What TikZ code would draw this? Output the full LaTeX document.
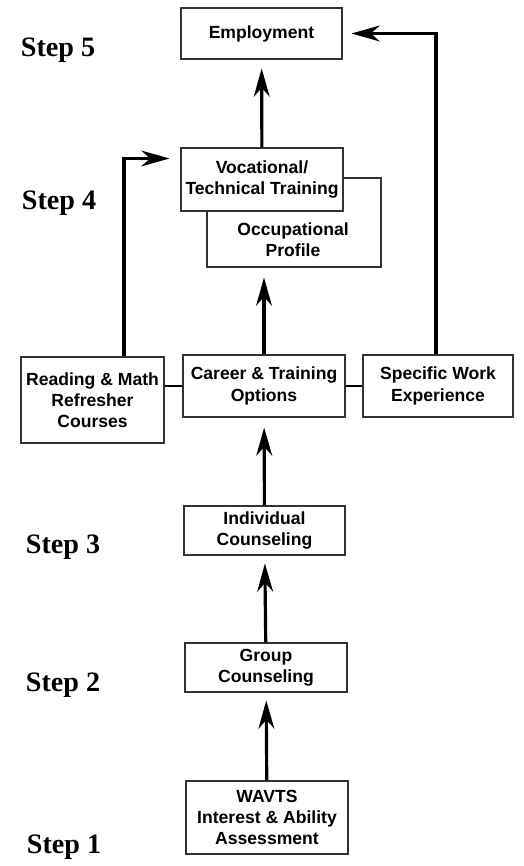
\documentclass[tikz,border=0pt]{standalone}
\usepackage{fontspec}
\setmainfont{Liberation Serif}
\setsansfont{Liberation Sans}
\usetikzlibrary{arrows.meta}

\begin{document}
\begin{tikzpicture}[
  font=\sffamily\bfseries\fontsize{10}{12}\selectfont,
  box/.style={
    rectangle, draw=black!80, fill=white, line width=0.6pt,
    align=center, inner sep=2pt
  },
  flow/.style={
    line width=1.8pt,
    -{Stealth[length=16pt, width=9pt, inset=5pt]}
  },
  link/.style={line width=1.4pt},
  steplbl/.style={font=\rmfamily\bfseries\fontsize{16}{18}\selectfont},
]
\useasboundingbox (0,0) rectangle (10.48,17.32);

% Step labels down the left side
\node[steplbl] (s5) at (1.16,16.32) {Step 5};
\node[steplbl] (s4) at (1.18,13.26) {Step 4};
\node[steplbl] (s3) at (1.26,6.38) {Step 3};
\node[steplbl] (s2) at (1.26,3.62) {Step 2};
\node[steplbl] (s1) at (1.28,0.38) {Step 1};

% Boxes, bottom to top
\node[box, minimum width=3.24cm, minimum height=1.46cm] (wav) at (5.34,0.97)
  {WAVTS\\Interest \& Ability\\Assessment};
\node[box, minimum width=3.24cm, minimum height=0.98cm] (grp) at (5.32,3.97)
  {Group\\Counseling};
\node[box, minimum width=3.22cm, minimum height=0.98cm] (ind) at (5.29,6.71)
  {Individual\\Counseling};

\node[box, minimum width=2.86cm, minimum height=1.72cm] (read) at (1.85,9.32)
  {Reading \& Math\\Refresher\\Courses};
\node[box, minimum width=3.24cm, minimum height=1.24cm] (car) at (5.28,9.60)
  {Career \& Training\\Options};
\node[box, minimum width=3.00cm, minimum height=1.24cm] (spec) at (8.76,9.60)
  {Specific Work\\Experience};

% profile box sits behind the training box
\node[box, minimum width=3.48cm, minimum height=1.78cm] (occ) at (5.88,12.87) {};
\node[align=center] (occtxt) at (5.86,12.52) {Occupational\\Profile};
\node[box, minimum width=3.24cm, minimum height=1.26cm] (voc) at (5.24,13.73)
  {Vocational/\\Technical Training};

\node[box, minimum width=3.22cm, minimum height=1.02cm] (emp) at (5.23,16.65)
  {Employment};

% Connectors
\draw[flow, shorten >=0.16cm] (wav) -- (grp);
\draw[flow, shorten >=0.16cm] (grp) -- (ind);
\draw[flow, shorten >=0.2cm] (ind) -- (car);
\draw[flow, shorten >=0.2cm] (car.north) -- (car.north |- occ.south);
\draw[flow, shorten >=0.18cm] (voc) -- (emp);

\draw[link] (read.east |- car.west) -- (car.west);
\draw[link] (car.east) -- (car.east -| spec.west);

\draw[flow, shorten >=0.22cm] ([xshift=0.63cm]read.north) |- ([yshift=0.42cm]voc.west);
\draw[flow, shorten >=0.18cm] ([xshift=-0.04cm]spec.north) |- (emp.east);

\end{tikzpicture}
\end{document}
